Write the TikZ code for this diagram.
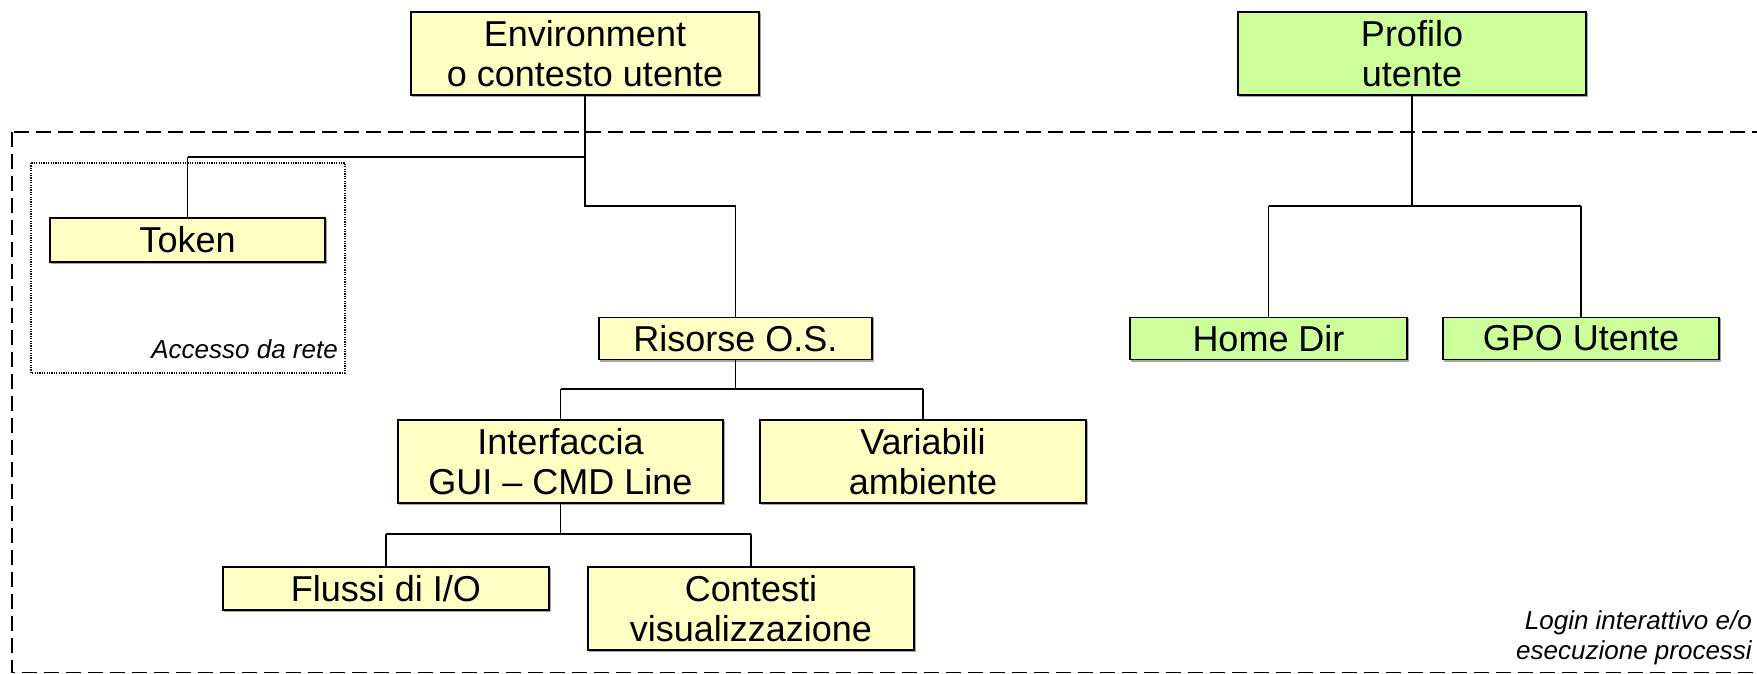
\documentclass[tikz,border=0pt]{standalone}
\usepackage{fontspec}
\setmainfont{Liberation Sans}
\begin{document}
\begin{tikzpicture}[x=1pt,y=-1pt,
  boxfont/.style={font=\fontsize{36}{40}\selectfont},
  notefont/.style={font=\fontsize{26}{30}\selectfont\itshape},
  orgbox/.style={boxfont,draw=black,line width=1.6pt,inner sep=0pt,align=center,
    minimum width=#1},
  shadowed/.style={preaction={draw=black!35,line width=1.6pt,fill=black!35,transform canvas={shift={(1.6pt,-1.6pt)}}}},
  envbox/.style={orgbox=#1,fill=envyellow,shadowed},
  profbox/.style={orgbox=#1,fill=profgreen,shadowed},
  trunk/.style={line width=1.8pt},
  branch/.style={line width=1.1pt},
  frame/.style={dash pattern=on 15pt off 7pt,line width=1.4pt},
  netframe/.style={dash pattern=on 1.2pt off 1.2pt,line width=1.3pt}
]
\definecolor{envyellow}{HTML}{FFFFC4}
\definecolor{profgreen}{HTML}{CCFF99}
\useasboundingbox (0,0) rectangle (1757,673);
\fill[white] (0,0) rectangle (1757,673);

% session frame and network access frame
\draw[frame] (12,132) rectangle (1790,672.5);
\draw[netframe] (31,163) rectangle (345,373);

% boxes
\node[envbox=348pt,minimum height=83pt] (env) at (585,53.5) {Environment\\o contesto utente};
\node[profbox=348pt,minimum height=83pt] (prof) at (1412,53.5) {Profilo\\utente};
\node[envbox=275pt,minimum height=44pt] (token) at (187.5,240) {Token};
\node[envbox=273pt,minimum height=42pt] (risorse) at (735.5,338.5) {Risorse O.S.};
\node[profbox=277pt,minimum height=42pt] (home) at (1268.5,338.5) {Home Dir};
\node[profbox=276pt,minimum height=42pt] (gpo) at (1581,338.5) {GPO Utente};
\node[envbox=325pt,minimum height=83pt] (interf) at (560.5,461.5) {Interfaccia\\GUI – CMD Line};
\node[envbox=326pt,minimum height=83pt] (variab) at (923,461.5) {Variabili\\ambiente};
\node[envbox=326pt,minimum height=43pt] (flussi) at (386,588.5) {Flussi di I/O};
\node[envbox=326pt,minimum height=83pt] (contesti) at (751,608.5) {Contesti\\visualizzazione};

% labels of the frames
\node[notefont,anchor=base east,inner sep=0pt] (netlabel) at (338,358) {Accesso da rete};
\node[notefont,anchor=south east,inner sep=0pt,align=right] (loginlabel) at (1752,665) {Login interattivo e/o\\esecuzione processi};

% bus levels
\coordinate (busToken) at (0,157);
\coordinate (busEnv) at (0,206);
\coordinate (busProf) at (0,206);
\coordinate (busRis) at (0,389);
\coordinate (busInt) at (0,534);

% environment tree
\draw[trunk] (env.south) -- (env.south |- busToken) -- (token.north |- busToken);
\draw[branch] (token.north |- busToken) -- (token.north);
\draw[branch] (env.south |- busToken) -- (env.south |- busEnv) -| (risorse.north);

% resources tree
\draw[trunk] (risorse.south) -- (risorse.south |- busRis);
\draw[trunk] (interf.north |- busRis) -- (variab.north |- busRis);
\draw[branch] (interf.north |- busRis) -- (interf.north);
\draw[branch] (variab.north |- busRis) -- (variab.north);

% interface tree
\draw[trunk] (interf.south) -- (interf.south |- busInt);
\draw[trunk] (flussi.north |- busInt) -- (contesti.north |- busInt);
\draw[branch] (flussi.north |- busInt) -- (flussi.north);
\draw[branch] (contesti.north |- busInt) -- (contesti.north);

% profile tree
\draw[trunk] (prof.south) -- (prof.south |- busProf);
\draw[trunk] (home.north |- busProf) -- (gpo.north |- busProf);
\draw[branch] (home.north |- busProf) -- (home.north);
\draw[branch] (gpo.north |- busProf) -- (gpo.north);
\end{tikzpicture}
\end{document}
